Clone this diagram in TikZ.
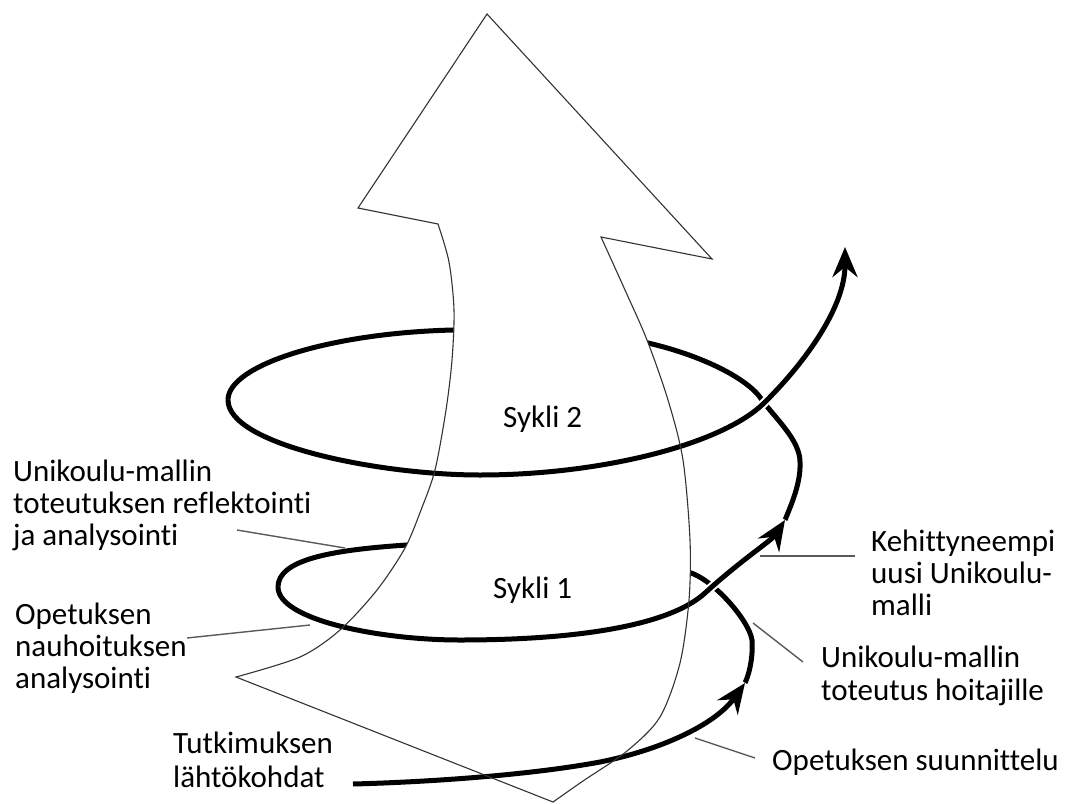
\documentclass[tikz,border=0pt]{standalone}
\usepackage{fontspec}
\setmainfont{Carlito}[Ligatures=NoCommon]
\usetikzlibrary{arrows.meta}

\tikzset{
  backstrand/.style={line width=5pt, black},
  frontstrand/.style={line width=5pt, black, preaction={draw=white, line width=9pt, -}},
  headtip/.style={-{Stealth[length=30pt, width=25pt, inset=10pt]}},
  arrowedge/.style={draw=black!80, line width=1.1pt},
  leader/.style={draw=black!65, line width=1.4pt},
  lbl/.style={font=\fontsize{31}{32}\selectfont, align=left, inner sep=0pt, anchor=base west},
}

\def\arrowpath{(487,14) -- (358,208) -- (438,224)
  -- plot[smooth] coordinates {(438,224) (449,262) (454,310) (452,360) (446,410) (435,470) (421,510) (405,548) (377,590) (340,630) (300,657) (236,677)}
  -- (553,802)
  -- plot[smooth] coordinates {(553,802) (583,781) (627,751) (660,717) (680,663) (689,600) (690,540) (683,460) (668,400) (647,340) (625,290) (601,237)}
  -- (712,259) -- cycle}

\begin{document}
\begin{tikzpicture}[x=1pt, y=-1pt]
\useasboundingbox (0,0) rectangle (1065,803);

% points of the spiral
\coordinate (start) at (353,784);
\coordinate (tipa) at (745,683);
\coordinate (tipb) at (785,520);
\coordinate (tipc) at (845,247);
\coordinate (leftb) at (278,587);
\coordinate (leftc) at (228,400);
\coordinate (crossb) at (705,593);
\coordinate (crossc) at (763,404);

% back half of the loops
\draw[backstrand] (tipa) .. controls (751,670) and (753,652) .. (752,640)
  .. controls (749,620) and (712,578) .. (688,572)
  .. controls (640,560) and (480,540) .. (407,545)
  .. controls (330,550) and (278,560) .. (leftb);
\draw[backstrand] (tipb) .. controls (792,503) and (801,482) .. (800,462)
  .. controls (800,440) and (775,418) .. (762,400)
  .. controls (748,378) and (700,355) .. (648,343)
  .. controls (600,330) and (500,325) .. (453,330)
  .. controls (330,333) and (228,365) .. (leftc);

% the big arrow
\fill[white] \arrowpath;

% front half of the loops
\draw[frontstrand, headtip] (start) .. controls (430,782) and (530,775) .. (600,762)
  .. controls (660,750) and (715,725) .. (tipa);
\draw[frontstrand, headtip] (leftb) .. controls (278,620) and (380,640) .. (460,640)
  .. controls (580,640) and (670,625) .. (crossb)
  .. controls (740,561) and (772,540) .. (tipb);
\draw[frontstrand, headtip] (leftc) .. controls (228,445) and (380,475) .. (480,475)
  .. controls (600,475) and (720,445) .. (crossc)
  .. controls (800,368) and (845,310) .. (tipc);

\draw[arrowedge] \arrowpath;

% labels (base = last line)
\node[lbl] (cycletwo) at (503,427) {Sykli 2};
\node[lbl] (cycleone) at (493,598) {Sykli 1};
\node[lbl] (reflect) at (13,545) {Unikoulu-mallin\\toteutuksen reflektointi\\ja analysointi};
\node[lbl] (record) at (15,688) {Opetuksen\\nauhoituksen\\analysointi};
\node[lbl, font=\fontsize{31}{34}\selectfont] (origin) at (173,787) {Tutkimuksen\\lähtökohdat};
\node[lbl] (advanced) at (871,615) {Kehittyneempi\\uusi Unikoulu-\\malli};
\node[lbl, font=\fontsize{31}{33}\selectfont] (nurses) at (821,700) {Unikoulu-mallin\\toteutus hoitajille};
\node[lbl] (planning) at (772,770) {Opetuksen suunnittelu};

% leader lines
\coordinate (reflect-a) at (237,530);
\coordinate (reflect-b) at (345,548);
\coordinate (record-a) at (187,638);
\coordinate (record-b) at (310,625);
\coordinate (advanced-a) at (855,556);
\coordinate (advanced-b) at (760,556);
\coordinate (nurses-a) at (803,662);
\coordinate (nurses-b) at (753,623);
\coordinate (planning-a) at (755,758);
\coordinate (planning-b) at (695,738);
\draw[leader] (reflect-a) -- (reflect-b);
\draw[leader] (record-a) -- (record-b);
\draw[leader] (advanced-a) -- (advanced-b);
\draw[leader] (nurses-a) -- (nurses-b);
\draw[leader] (planning-a) -- (planning-b);
\end{tikzpicture}
\end{document}
